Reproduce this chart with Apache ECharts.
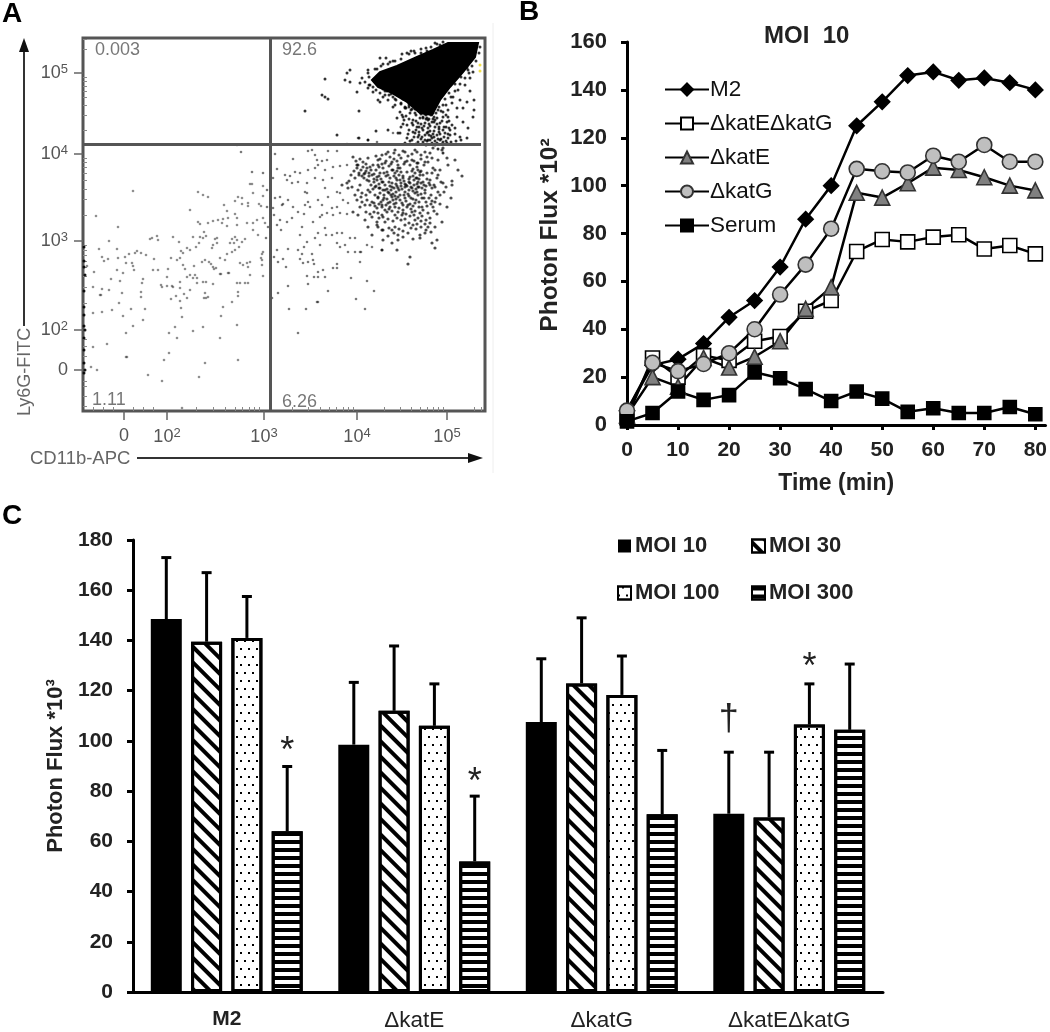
<!DOCTYPE html>
<html>
<head>
<meta charset="utf-8">
<title>Panels A-C</title>
<script src="https://cdn.jsdelivr.net/npm/echarts@6/dist/echarts.min.js"></script>
<style>
  html, body { margin: 0; padding: 0; background: #fff; }
  #chart { width: 1050px; height: 1032px; filter: blur(0.6px); }
</style>
</head>
<body>
<div id="chart"></div>
<script>
// Panel A, flow plot. Values are display channels on the biexponential scale, x then y.
const flowLowLeft = [50,220,13,195,35,184,26,170,16,162,34,162,19,154,21,150,25,152,35,153,42,154,46,157,52,158,54,160,58,158,63,156,
  67,172,69,173,74,175,75,171,43,148,49,148,50,145,34,141,40,138,51,141,11,139,4,145,28,132,37,130,60,132,59,128,10,124,19,122,26,121,
  17,116,18,116,39,118,58,119,58,114,36,108,48,102,62,102,10,98,19,99,29,101,40,95,60,91,50,85,43,78,24,67,10,64,43,54,44,54,8,44,14,41,65,36,79,30,99,3,
  71,152,70,141,75,141,85,142,88,153,90,174,96,169,98,160,100,158,104,163,107,161,113,164,116,168,120,173,123,175,110,174,117,174,
  107,201,115,219,120,216,125,214,115,189,117,187,125,188,130,190,135,191,140,192,145,193,152,197,154,193,139,188,144,185,121,179,154,186,
  141,206,152,210,155,214,159,213,165,208,165,205,159,207,170,218,167,227,169,227,180,225,180,215,176,207,178,205,144,200,
  164,188,170,188,174,191,180,193,182,188,170,181,175,176,132,172,134,173,130,166,134,168,129,163,149,172,152,174,147,168,151,168,154,171,
  162,172,159,169,156,164,152,161,149,159,144,157,179,157,180,159,122,151,119,149,111,145,126,149,128,147,100,146,102,142,97,153,94,151,
  137,153,142,151,130,144,133,143,131,142,137,137,138,137,145,138,146,138,112,136,110,133,107,136,114,133,114,128,104,134,97,129,120,129,123,129,130,127,
  84,134,78,126,79,124,84,125,89,125,90,124,97,123,107,121,101,117,93,115,104,113,88,112,97,110,122,118,121,113,125,114,123,113,
  157,148,160,146,164,148,167,149,165,144,167,136,165,128,154,128,157,128,162,128,155,119,155,115,149,109,140,104,138,95,98,103,99,94,92,84,86,78,94,73,
  110,80,120,84,137,73,154,86,86,58,81,51,122,48,155,51,116,34,180,135,179,151,179,146,178,153];
const flowLowRight = [192,257,210,252,225,260,229,261,232,256,234,251,245,260,254,260,244,251,239,250,194,242,202,236,207,235,212,239,217,238,225,241,232,243,235,246,242,241,250,244,257,245,264,246,
  190,233,204,231,209,228,215,229,224,228,222,219,224,218,232,233,240,231,249,233,242,223,254,219,257,218,197,214,192,213,200,207,205,211,210,204,215,199,221,197,227,204,225,209,222,206,
  235,211,239,206,245,214,249,203,254,204,260,211,265,208,239,196,199,206,190,203,191,196,197,191,194,186,198,181,204,189,209,193,219,184,230,189,237,194,244,198,250,196,257,198,264,197,
  242,183,235,178,217,176,224,169,232,173,243,176,249,176,254,178,259,178,267,173,272,173,262,166,221,164,237,166,254,168,257,164,194,161,205,162,215,161,219,157,229,157,
  191,154,195,149,200,152,217,152,220,148,225,149,230,151,231,147,203,144,254,147,250,143,254,143,224,135,235,139,240,141,235,134,231,134,242,134,268,133,
  205,125,225,127,245,120,284,130,291,120,195,118,189,113,234,109,235,109,273,112,206,102,223,102,282,102,215,78,277,159,278,159,277,149,272,159,265,159,299,161,284,166,289,164,
  184,221,180,238,184,204,185,184,183,173,158,259,154,266,169,239,264,267,275,273,285,271,294,269,310,278];
const flowCluster = [270,254,275,246,280,249,274,243,285,253,290,246,295,251,300,243,282,238,289,236,294,234,299,229,284,231,272,233,277,226,269,224,264,228,265,223,259,226,292,224,297,223,300,221,285,221,
  272,216,279,209,282,206,277,204,289,209,295,213,300,211,270,199,275,196,282,191,289,194,294,189,299,196,285,184,289,176,295,184,300,181,
  299,256,305,259,312,261,322,259,332,261,342,259,350,263,359,261,364,253,372,251,360,263,295,246,302,248,309,249,315,246,322,249,329,251,335,248,342,249,349,253,355,251,
  297,238,304,239,310,241,317,243,324,239,330,242,337,239,344,238,350,243,357,241,365,246,375,241,379,235,294,231,300,229,307,233,314,231,320,233,327,234,334,233,340,229,347,231,354,233,360,228,369,230,
  296,223,302,221,309,224,315,223,322,224,329,223,335,224,342,221,349,223,355,219,363,224,369,226,295,214,301,213,308,216,315,214,321,216,328,213,335,216,341,213,348,216,368,213,
  299,206,305,208,312,204,319,208,325,206,332,208,339,204,350,204,357,207,364,204,295,198,304,199,312,196,320,198,329,199,337,198,345,198,354,197,302,189,312,184,322,186,332,191,345,184,352,184,359,189,
  294,186,299,181,309,181,315,176,325,178,337,176,342,178,300,171,309,168,315,171,337,173,354,171,349,168,352,163,299,161,314,161,327,154,325,147,
  312,238,314,240,316,236,311,235,318,239,315,243,309,241,320,235,313,233,317,231,
  332,238,335,241,337,236,330,235,333,233,338,240,336,232,329,240,340,236,334,244,
  278,241,280,244,283,240,276,238,281,237,284,243,279,235,286,238,274,246,288,241,
  308,221,311,223,313,219,306,218,310,217,314,225,307,225,316,221,304,222,312,215,
  328,224,331,226,333,222,326,221,330,220,334,227,327,228,336,224,324,225,332,218,
  288,226,291,229,293,225,286,230,290,222,296,227,298,232,303,235,306,229,302,226,
  318,228,321,230,323,226,326,232,319,222,322,219,325,217,338,228,341,226,344,232,
  304,212,307,209,310,211,313,208,317,211,320,206,323,210,327,207,330,205,333,211,336,209,339,213,343,209,
  291,237,293,241,296,244,299,247,303,250,306,245,308,247,311,252,314,250,318,253,321,247,324,250,327,246,331,250,334,248,338,252,341,246,345,249,
  292,205,296,207,299,204,302,201,306,202,309,200,315,199,319,196,323,197,327,195,331,196,335,193,339,195,343,191,347,193,351,200,
  349,238,352,241,355,236,358,229,347,226,352,224,349,210,353,213,357,216,361,219,
  273,250,277,252,283,247,287,244,293,255,297,252,303,257,307,254,311,258,316,256,320,260,325,255,329,257,334,259,338,256,344,254,347,258,
  271,240,276,236,281,233,286,235,291,232,296,235,301,238,305,236,309,228,313,227,318,225,322,227,326,229,331,231,335,229,339,223,343,225,346,228,351,226,
  268,236,266,230,275,221,279,218,283,216,287,219,292,216,297,218,301,216,305,219,309,214,313,212,317,216,322,213,326,215,330,212,334,219,338,217,342,218,346,213,
  274,211,278,214,284,211,287,206,291,208,294,203,298,209,303,206,307,204,311,207,316,203,320,201,324,204,328,202,332,200,336,204,340,201,344,205,348,207,352,209,
  283,199,287,197,291,199,296,193,300,194,305,192,310,190,314,193,318,191,322,192,326,188,330,186,334,187,338,190,342,187,347,188,
  306,183,311,178,316,182,320,180,328,183,333,182,338,184,343,181,348,179,305,175,320,174,330,172];
const flowTail = [310,304,317,299,314,293,320,294,327,298,324,286,330,291,334,284,337,293,342,288,340,281,345,283,349,289,354,293,352,284,357,288,360,294,364,289,
  332,278,339,274,344,278,349,273,354,276,357,271,362,278,365,273,317,278,324,273,329,271,335,269,360,306,365,301,369,308,374,303,377,311,380,303,384,309,374,294,380,289,372,283,377,274,384,273,385,283,370,314,375,321,382,326,387,320,391,311,391,301,390,294,387,333,390,339,385,341,
  332,298,335,288,340,293,345,291,350,298,355,301,360,299,365,294,369,286,338,299,343,296,348,296,353,298,329,302,326,304,322,303,334,304,342,304,
  336,284,341,285,346,287,351,280,356,282,361,284,367,281,344,270,349,268,354,268,359,267,364,268,342,276,347,280,352,270,
  285,341,285,338,279,333,277,328,274,319,282,329,285,323,290,319,295,311,297,309,302,316,305,311,310,314,312,306,297,353,303,353,307,349,319,357,324,358,332,358,344,360,352,368,357,366,
  300,314,304,320,308,317,313,311,318,308,322,304,287,326,291,330,286,334,294,342,300,347,310,350,328,360,338,362,
  267,341,264,338,262,331,267,329,242,332,239,316,242,314,245,312,222,300,276,300,254,276,276,273,285,271,293,280,305,281,315,278,
  300,322,306,316,312,312,318,307,323,303,328,301,333,296,340,294,346,292,352,291,358,300,363,306,368,314,372,320,377,327,382,333,386,338,389,345,393,350,396,358,397,364,
  286,326,290,324,293,321,297,318,302,320,308,323,314,318,320,312,326,306,332,302,338,297,344,293,350,292,356,304,362,312,366,318,372,327,378,334,384,343,388,352,
  292,342,298,345,305,347,312,350,318,352,326,357,331,360,338,358,343,363,348,364,354,367,360,369,
  330,286,333,290,338,287,343,292,347,285,351,289,356,284,359,290,363,284,366,290,346,276,351,274,356,279,361,274,367,276,372,277,336,279,331,274,326,281,321,291,318,284,
  342,271,347,271,352,266,358,272,363,270,368,269,373,270,378,271,355,262,360,258,
  319,296,323,295,326,292,329,288,333,281,336,276,339,283,342,297,345,279,348,275,351,294,354,287,357,277,360,281,363,296,366,283,320,287,325,277,330,279,335,274,340,269,345,271,350,277,355,272,360,269,365,277,322,268,327,270,333,267,338,272,343,266];
const flowEdge = [1,164,1,150,1,144,2,136,1,120,1,104,1,96,1,85,2,81,1,73,1,61,1,48,2,41,1,38];
const flowDenseOutline = [289,331,297,339,314,345,334,354,350,361,365,368,395,368,392,354,380,339,367,324,357,311,349,296,337,298,324,309,307,319,295,324];
const flowOffscale = [397,346,397,340];
const flowTicksX = [41,84,181,274,364];
const flowTicksY = [41,81,170,257,338];
const flowTickTextX = ['0','{n|10}{s|2}','{n|10}{s|3}','{n|10}{s|4}','{n|10}{s|5}'];
const flowTickTextY = ['0','{n|10}{s|2}','{n|10}{s|3}','{n|10}{s|4}','{n|10}{s|5}'];
const flowMinorX = [10,20,30,50,60,70,113,130,142,152,159,166,171,176,209,225,237,246,253,260,265,270,301,317,328,337,344,350,355,360,391,398];
const flowMinorY = [5,15,25,30,55,65,72,108,124,135,144,150,156,161,166,196,212,222,231,238,244,249,253,281,296,306,314,320,325,330,334,362,372];
const gateX = 187;
const gateY = 267;
const quadrantText = ['0.003','92.6','1.11','6.26'];
const quadrantX = [12,199,9,199];
const quadrantY = [361,361,11,9];

// Panel B, time course
const minutes = [0,5,10,15,20,25,30,35,40,45,50,55,60,65,70,75,80];
const minuteTicks = [0,10,20,30,40,50,60,70,80];
const m2Flux = [6,25,27.5,34,45,52,66,86,100,125,135,146,147.5,144,145,143,140];
const katEkatGFlux = [3,28,20,29,27,35,37,47.5,52,72.5,77.5,76.5,78.5,79.5,73.5,75,71.5];
const katEFlux = [4,20,16,28,24,28.5,35,48.5,57.5,97,95,101,107.5,106.5,103.5,100,98];
const katGFlux = [6,26,22.5,25.5,30,40,54.5,67,82,107,106,105.5,112.5,110,117,110,110];
const serumFlux = [1.5,5,14,10.5,12.5,22,19.5,15,10,14,11,5.5,7,5,5,7.5,4.5];

// Panel C, dose response
const strains = ['M2','ΔkatE','ΔkatG','ΔkatEΔkatG'];
const moi10 = [148.5,98.5,107.5,71];
const moi30 = [139.5,112,122.9,69.5];
const moi100 = [141,106,118.3,106.5];
const moi300 = [64,52,70.8,104.4];
const moi10Upper = [173,123.3,132.7,95.5];
const moi30Upper = [167,137.8,149,95.5];
const moi100Upper = [157.5,122.7,133.8,122.7];
const moi300Upper = [89.8,78,96.2,130.6];
const markStrain = [0,1,3,3];
const markBar = [3,3,2,0];
const markHeight = [98.9,86.2,132.3,108.2];
const markText = ['*','*','*','†'];

const FONT = '"Liberation Sans", Arial, sans-serif';
const barPitch = 40.3;

function pairs(flat) {
  const out = [];
  for (let i = 0; i < flat.length; i += 2) out.push([flat[i], flat[i + 1]]);
  return out;
}

function flowSeries(flat, color, opacity, size) {
  return {
    type: 'scatter', xAxisIndex: 0, yAxisIndex: 0, silent: true,
    symbol: 'circle', symbolSize: size,
    itemStyle: { color: color, opacity: opacity },
    data: pairs(flat)
  };
}

function lineSeries(name, values, symbol, size, fill, border) {
  return {
    name: name, type: 'line', xAxisIndex: 2, yAxisIndex: 2,
    symbol: symbol, symbolSize: size, showAllSymbol: true,
    lineStyle: { color: '#000', width: 2.5 },
    itemStyle: { color: fill, borderColor: border, borderWidth: 1.6, opacity: 1 },
    emphasis: { disabled: true },
    data: values.map((v, i) => [minutes[i], v])
  };
}

function barSeries(name, values, fill, decal, borderWidth) {
  return {
    name: name, type: 'bar', xAxisIndex: 3, yAxisIndex: 3,
    barWidth: 31, barGap: '30%',
    itemStyle: { color: fill, borderColor: '#000', borderWidth: borderWidth, decal: decal },
    data: values
  };
}

function errorSeries(index, values, upper) {
  return {
    type: 'custom', xAxisIndex: 3, yAxisIndex: 3, silent: true, clip: false,
    data: values.map((v, i) => [i, v, upper[i]]),
    renderItem: (params, api) => {
      const offset = (index - 1.5) * barPitch;
      const base = api.coord([api.value(0), api.value(1)]);
      const top = api.coord([api.value(0), api.value(2)]);
      const x = base[0] + offset;
      const style = { stroke: '#000', lineWidth: 3, fill: null };
      return {
        type: 'group',
        children: [
          { type: 'line', shape: { x1: x, y1: base[1], x2: x, y2: top[1] }, style: style },
          { type: 'line', shape: { x1: x - 5, y1: top[1], x2: x + 5, y2: top[1] }, style: style }
        ]
      };
    }
  };
}

const hatch = { symbol: 'rect', symbolSize: 1, color: '#000', dashArrayX: [1, 0], dashArrayY: [4, 7], rotation: Math.PI / 4 };
const dots = { symbol: 'rect', symbolSize: 1, color: '#000', dashArrayX: [[2, 6], [0, 4, 2, 2]], dashArrayY: [2, 5.5], rotation: 0 };
const stripes = { symbol: 'rect', symbolSize: 1, color: '#000', dashArrayX: [1, 0], dashArrayY: [3.3, 3.3], rotation: 0 };

const boldTick = { fontFamily: FONT, fontWeight: 'bold', fontSize: 21, color: '#222' };
const flowRich = {
  n: { fontFamily: FONT, fontSize: 18, color: '#555' },
  s: { fontFamily: FONT, fontSize: 13, color: '#555', verticalAlign: 'top', padding: [0, 0, 8, 0] }
};
const flowLabel = (ticks, text) => ({
  customValues: ticks, fontFamily: FONT, fontSize: 18, color: '#555', rich: flowRich,
  formatter: (value) => text[ticks.indexOf(value)]
});

const option = {
  animation: false,
  backgroundColor: '#fff',
  textStyle: { fontFamily: FONT },
  grid: [
    { left: 83, top: 38, width: 402, height: 373, show: true, borderColor: '#555', borderWidth: 3, backgroundColor: 'transparent' },
    { left: 627, top: 42, width: 421, height: 383 },
    { left: 133, top: 540, width: 750, height: 457 }
  ],
  xAxis: [
    { type: 'value', gridIndex: 0, min: 0, max: 402, axisLine: { show: false }, splitLine: { show: false },
      axisTick: { show: true, customValues: flowTicksX, length: 9, lineStyle: { color: '#666', width: 1.5 } },
      axisLabel: Object.assign(flowLabel(flowTicksX, flowTickTextX), { margin: 16 }) },
    { type: 'value', gridIndex: 0, min: 0, max: 402, axisLine: { show: false }, splitLine: { show: false }, axisLabel: { show: false },
      axisTick: { show: true, customValues: flowMinorX, length: 4, lineStyle: { color: '#888', width: 1 } } },
    { type: 'value', gridIndex: 1, min: 0, max: 82, splitLine: { show: false },
      axisLine: { lineStyle: { color: '#000', width: 3 } },
      axisTick: { show: true, customValues: minuteTicks, length: 5, lineStyle: { color: '#000', width: 3 } },
      axisLabel: Object.assign({ customValues: minuteTicks, margin: 15 }, boldTick),
      name: 'Time (min)', nameLocation: 'middle', nameGap: 47,
      nameTextStyle: { fontFamily: FONT, fontWeight: 'bold', fontSize: 23, color: '#222' } },
    { type: 'category', gridIndex: 2, data: strains,
      axisLine: { lineStyle: { color: '#000', width: 3 } }, axisTick: { show: false },
      axisLabel: {
        margin: 17,
        formatter: (v) => (v === 'M2' ? '{b|M2}' : '{r|' + v + '}'),
        rich: {
          b: { fontFamily: FONT, fontWeight: 'bold', fontSize: 21, color: '#222' },
          r: { fontFamily: FONT, fontSize: 22.5, color: '#222' }
        }
      } }
  ],
  yAxis: [
    { type: 'value', gridIndex: 0, min: 0, max: 373, axisLine: { show: false }, splitLine: { show: false },
      axisTick: { show: true, customValues: flowTicksY, length: 9, lineStyle: { color: '#666', width: 1.5 } },
      axisLabel: Object.assign(flowLabel(flowTicksY, flowTickTextY), { margin: 15 }) },
    { type: 'value', gridIndex: 0, min: 0, max: 373, axisLine: { show: false }, splitLine: { show: false }, axisLabel: { show: false },
      axisTick: { show: true, customValues: flowMinorY, length: 4, lineStyle: { color: '#888', width: 1 } } },
    { type: 'value', gridIndex: 1, min: 0, max: 160, interval: 20, splitLine: { show: false },
      axisLine: { show: true, lineStyle: { color: '#000', width: 3 } },
      axisTick: { show: true, length: 6, lineStyle: { color: '#000', width: 3 } },
      axisLabel: Object.assign({ margin: 20 }, boldTick, { fontSize: 22 }),
      name: 'Photon Flux *10²', nameLocation: 'middle', nameGap: 64,
      nameTextStyle: { fontFamily: FONT, fontWeight: 'bold', fontSize: 24.5, color: '#222', padding: [0, 3, 0, 0] } },
    { type: 'value', gridIndex: 2, min: 0, max: 180, interval: 20, splitLine: { show: false },
      axisLine: { show: true, lineStyle: { color: '#000', width: 3 } },
      axisTick: { show: true, length: 6, lineStyle: { color: '#000', width: 3 } },
      axisLabel: Object.assign({ margin: 20 }, boldTick),
      name: 'Photon Flux *10³', nameLocation: 'middle', nameGap: 64,
      nameTextStyle: { fontFamily: FONT, fontWeight: 'bold', fontSize: 22, color: '#222' } }
  ],
  legend: [
    { data: ['M2', 'ΔkatEΔkatG', 'ΔkatE', 'ΔkatG', 'Serum'], orient: 'vertical', left: 664, top: 78, selectedMode: false,
      itemWidth: 44, itemHeight: 15, itemGap: 11, padding: 0,
      textStyle: { fontFamily: FONT, fontSize: 22.5, color: '#111', padding: [0, 0, 0, -4] } },
    { data: [{ name: 'MOI 10', icon: 'rect' }, { name: 'MOI 100', icon: 'rect' }], orient: 'vertical', left: 617, top: 535, selectedMode: false,
      itemWidth: 13, itemHeight: 13, itemGap: 25, padding: 0,
      textStyle: { fontFamily: FONT, fontSize: 22, fontWeight: 'bold', color: '#222', padding: [0, 0, 0, -1] } },
    { data: [{ name: 'MOI 30', icon: 'rect' }, { name: 'MOI 300', icon: 'rect' }], orient: 'vertical', left: 751, top: 535, selectedMode: false,
      itemWidth: 13, itemHeight: 13, itemGap: 25, padding: 0,
      textStyle: { fontFamily: FONT, fontSize: 22, fontWeight: 'bold', color: '#222', padding: [0, 0, 0, -1] } }
  ],
  graphic: [
    { type: 'text', left: 2, top: 0, style: { text: 'A', font: 'bold 28px ' + FONT, fill: '#000' } },
    { type: 'text', left: 519, top: -2, style: { text: 'B', font: 'bold 28px ' + FONT, fill: '#000' } },
    { type: 'text', left: 2, top: 502, style: { text: 'C', font: 'bold 28px ' + FONT, fill: '#000' } },
    { type: 'text', left: 764, top: 24, style: { text: 'MOI  10', font: 'bold 24px ' + FONT, fill: '#222' } },
    { type: 'text', x: 25, y: 416, rotation: Math.PI / 2, style: { text: 'Ly6G-FITC', x: 0, y: 0, align: 'left', verticalAlign: 'middle', font: '18px ' + FONT, fill: '#666' } },
    { type: 'text', style: { text: 'CD11b-APC', x: 30, y: 449, font: '18.5px ' + FONT, fill: '#666' } },
    { type: 'line', shape: { x1: 24, y1: 326, x2: 24, y2: 46 }, style: { stroke: '#333', lineWidth: 2 } },
    { type: 'polygon', shape: { points: [[24, 38], [19, 52], [29, 52]] }, style: { fill: '#111' } },
    { type: 'line', shape: { x1: 137, y1: 458, x2: 474, y2: 458 }, style: { stroke: '#333', lineWidth: 2 } },
    { type: 'polygon', shape: { points: [[483, 458], [468, 453], [468, 463]] }, style: { fill: '#111' } },
    { type: 'line', shape: { x1: 493, y1: 23, x2: 493, y2: 473 }, style: { stroke: '#eee', lineWidth: 1 } }
  ],
  series: [
    {
      type: 'custom', xAxisIndex: 0, yAxisIndex: 0, silent: true,
      data: [0],
      renderItem: (params, api) => ({
        type: 'polygon',
        shape: { points: pairs(flowDenseOutline).map((p) => api.coord(p)) },
        style: { fill: '#000', stroke: '#000', lineWidth: 2 }
      })
    },
    flowSeries(flowLowLeft, '#333', 0.55, 2.6),
    flowSeries(flowLowRight, '#222', 0.6, 2.6),
    flowSeries(flowCluster, '#000', 0.7, 3.2),
    flowSeries(flowTail, '#000', 0.8, 3),
    flowSeries(flowEdge, '#000', 0.9, 3),
    flowSeries(flowOffscale, '#f2e04a', 1, 3),
    {
      type: 'scatter', xAxisIndex: 0, yAxisIndex: 0, silent: true, symbolSize: 0, z: 5,
      data: quadrantText.map((t, i) => [quadrantX[i], quadrantY[i], t]),
      label: { show: true, position: 'right', distance: 0, formatter: (p) => p.value[2], fontFamily: FONT, fontSize: 18, color: '#555' },
      markLine: {
        silent: true, symbol: 'none', animation: false, label: { show: false },
        lineStyle: { color: '#555', width: 3, type: 'solid' },
        data: [{ xAxis: gateX }, [{ coord: [0, gateY] }, { coord: [398, gateY] }]]
      }
    },
    lineSeries('M2', m2Flux, 'diamond', 15, '#000', '#000'),
    lineSeries('ΔkatEΔkatG', katEkatGFlux, 'rect', 14, '#fff', '#000'),
    lineSeries('ΔkatE', katEFlux, 'triangle', 15, '#808080', '#333'),
    lineSeries('ΔkatG', katGFlux, 'circle', 15, '#bfbfbf', '#333'),
    lineSeries('Serum', serumFlux, 'rect', 13, '#000', '#000'),
    barSeries('MOI 10', moi10, '#000', null, 0),
    barSeries('MOI 30', moi30, '#fff', hatch, 3),
    barSeries('MOI 100', moi100, '#fff', dots, 3),
    barSeries('MOI 300', moi300, '#fff', stripes, 3),
    errorSeries(0, moi10, moi10Upper),
    errorSeries(1, moi30, moi30Upper),
    errorSeries(2, moi100, moi100Upper),
    errorSeries(3, moi300, moi300Upper),
    {
      type: 'custom', xAxisIndex: 3, yAxisIndex: 3, silent: true, clip: false,
      data: markText.map((t, i) => [markStrain[i], markHeight[i], markBar[i]]),
      renderItem: (params, api) => {
        const at = api.coord([api.value(0), api.value(1)]);
        const text = markText[params.dataIndex];
        return {
          type: 'text',
          style: {
            text: text, x: at[0] + (api.value(2) - 1.5) * barPitch, y: at[1] + (text === '*' ? 8 : 0),
            align: 'center', verticalAlign: 'middle', font: '36px ' + FONT, fill: '#222'
          }
        };
      }
    }
  ]
};

const chart = echarts.init(document.getElementById('chart'));
chart.setOption(option);
</script>
</body>
</html>
